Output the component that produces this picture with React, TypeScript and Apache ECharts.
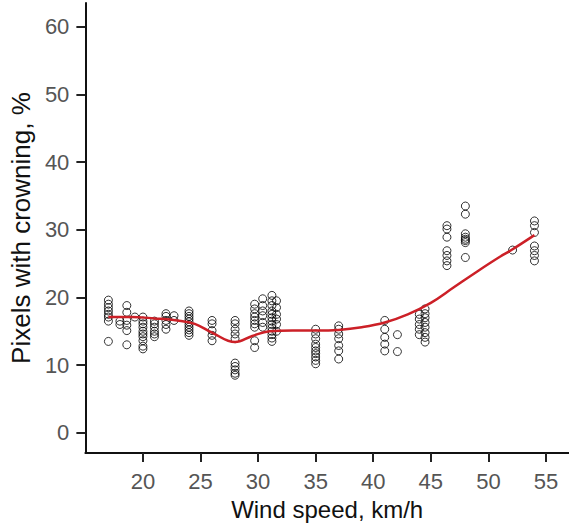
import React, { useEffect, useRef } from "react";
import * as echarts from "echarts";

// Wind speed (km/h) of each column of observations
const columnSpeeds = [17, 18, 18.6, 19.3, 20, 21, 22, 22.7, 24, 26, 28, 29.7, 30.4, 31.2, 31.6, 35, 37, 41, 42.1, 44, 44.5, 46.4, 48, 52.1, 54];
// Pixels with crowning (%) observed in each column
const columnValues: number[][] = [
  [19.6, 19.0, 18.5, 18.0, 17.5, 17.1, 16.5, 13.5],
  [16.5, 16.0],
  [18.8, 17.8, 16.6, 15.9, 15.1, 13.0],
  [17.1],
  [17.1, 16.5, 16.1, 15.6, 15.0, 14.6, 14.2, 13.6, 12.8, 12.4],
  [16.5, 16.1, 15.6, 15.0, 14.6, 14.2],
  [17.6, 17.2, 16.6, 16.0, 15.3],
  [17.3, 16.6],
  [18.0, 17.6, 17.2, 16.8, 16.4, 16.0, 15.6, 15.2, 14.8, 14.4],
  [16.6, 16.1, 15.1, 14.4, 13.6],
  [16.6, 16.1, 15.3, 14.6, 13.9, 10.3, 9.8, 9.3, 8.8, 8.5],
  [19.0, 18.3, 17.6, 17.1, 16.6, 16.1, 15.6, 13.6, 12.6],
  [19.8, 18.8, 18.0, 17.3, 16.3, 15.6],
  [20.3, 19.5, 18.8, 18.0, 17.5, 17.0, 16.5, 16.0, 15.5, 15.0, 14.5, 14.0, 13.5],
  [19.5, 18.5, 17.5, 16.8, 16.0, 15.0],
  [15.3, 14.6, 13.9, 13.1, 12.6, 12.1, 11.7, 11.2, 10.7, 10.2],
  [15.8, 15.3, 14.6, 13.9, 12.9, 12.1, 10.9],
  [16.6, 15.3, 14.1, 13.1, 12.1],
  [14.5, 12.0],
  [17.5, 16.8, 16.0, 15.3, 14.5],
  [18.3, 17.6, 17.0, 16.3, 15.6, 14.8, 14.1, 13.4],
  [30.6, 30.1, 28.9, 26.9, 26.2, 25.4, 24.7],
  [33.5, 32.3, 29.4, 28.9, 28.6, 28.4, 28.1, 25.9],
  [27.0],
  [31.3, 30.6, 29.6, 27.6, 26.9, 26.2, 25.4],
];

// Smoothed (loess-like) trend
const trendX = [17, 19, 21, 23, 24.5, 26, 28, 29.5, 31, 33, 35, 37, 39, 41, 43, 45, 47, 49, 51, 52, 54];
const trendY = [17.1, 17.1, 16.9, 16.6, 16.1, 14.8, 13.4, 14.3, 15.0, 15.1, 15.1, 15.2, 15.6, 16.3, 17.5, 19.2, 21.5, 23.8, 26.0, 27.0, 29.2];

const xTicks = [20, 25, 30, 35, 40, 45, 50, 55];
const yTicks = [0, 10, 20, 30, 40, 50, 60];

export default function App() {
  const ref = useRef<HTMLDivElement>(null);
  useEffect(() => {
    if (!ref.current) return;
    const chart = echarts.init(ref.current, null, { renderer: "svg" });
    const points: number[][] = [];
    columnSpeeds.forEach((s, i) => columnValues[i].forEach((v) => points.push([s, v])));
    const trend = trendX.map((x, i) => [x, trendY[i]]);
    const font = "'Liberation Sans', Arial, sans-serif";
    chart.setOption({
      animation: false,
      backgroundColor: "#ffffff",
      grid: { left: 83, top: 3, right: 0, bottom: 72 },
      xAxis: {
        type: "value",
        min: 15,
        max: 57,
        name: "Wind speed, km/h",
        nameLocation: "middle",
        nameGap: 38,
        nameTextStyle: { fontSize: 24, color: "#111", fontFamily: font },
        axisLine: { show: true, onZero: false, lineStyle: { color: "#111", width: 2 } },
        axisTick: { show: true, length: 9, customValues: xTicks, lineStyle: { color: "#222", width: 2 } },
        axisLabel: { customValues: xTicks, fontSize: 22, color: "#555", margin: 17, fontFamily: font },
        splitLine: { show: false },
      },
      yAxis: {
        type: "value",
        min: -3,
        max: 63.5,
        name: "Pixels with crowning, %",
        nameLocation: "middle",
        nameGap: 46,
        nameTextStyle: { fontSize: 26, color: "#111", fontFamily: font },
        axisLine: { show: true, onZero: false, lineStyle: { color: "#111", width: 2 } },
        axisTick: { show: true, length: 9, customValues: yTicks, lineStyle: { color: "#222", width: 2 } },
        axisLabel: { customValues: yTicks, fontSize: 22, color: "#555", margin: 16, fontFamily: font },
        splitLine: { show: false },
      },
      series: [
        {
          type: "scatter",
          data: points,
          symbol: "circle",
          symbolSize: 8,
          itemStyle: { color: "rgba(0,0,0,0)", borderColor: "#000", borderWidth: 1 },
          z: 2,
        },
        {
          type: "line",
          data: trend,
          smooth: 0.4,
          showSymbol: false,
          symbol: "none",
          lineStyle: { color: "#cc2027", width: 2.5 },
          z: 3,
        },
      ],
    });
    return () => chart.dispose();
  }, []);
  return (
    <div
      ref={ref}
      style={{ position: "absolute", left: 0, top: 0, width: 569, height: 526 }}
    />
  );
}
